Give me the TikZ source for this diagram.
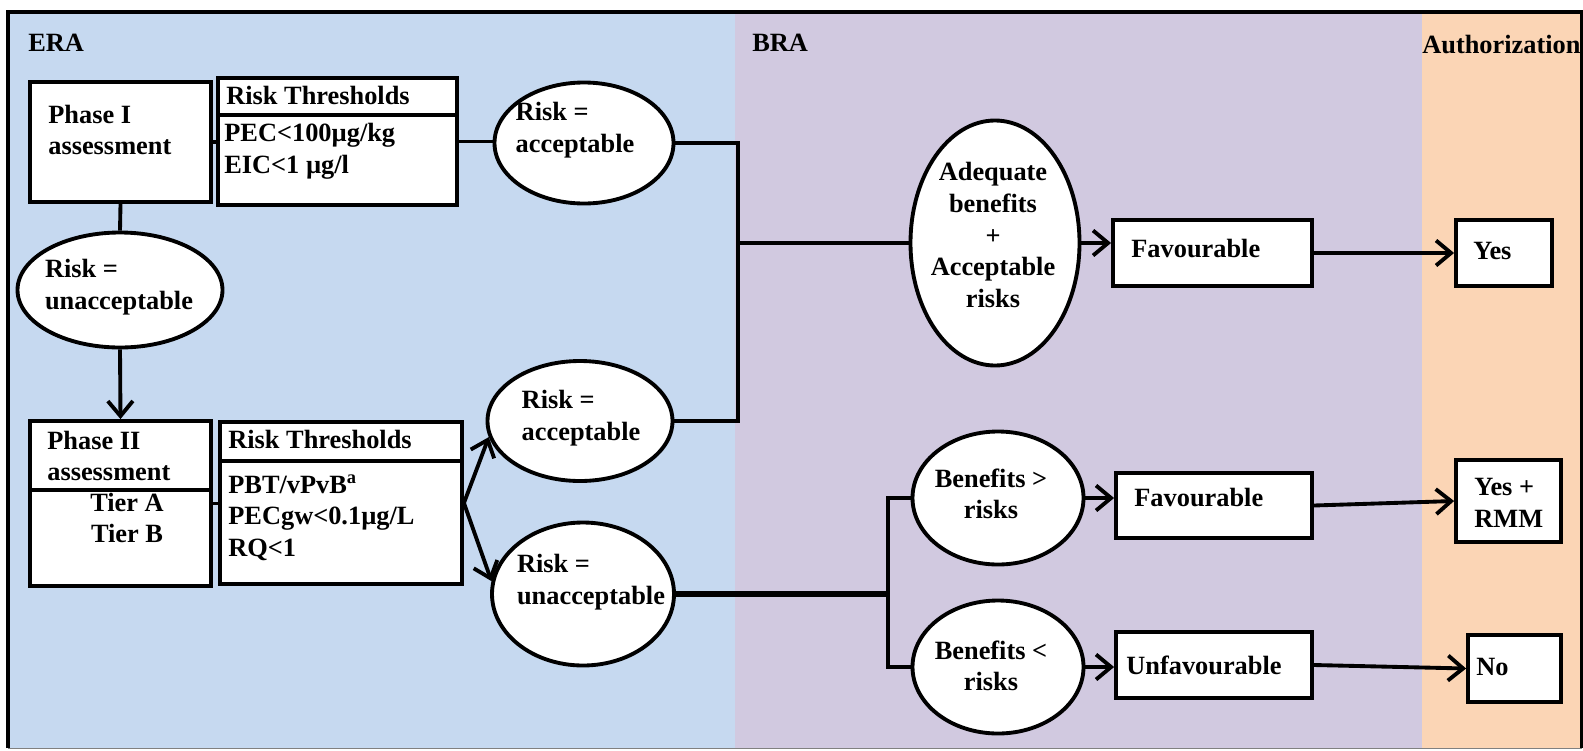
\documentclass[tikz,border=0pt]{standalone}
\usepackage{fontspec}
\setmainfont{Liberation Serif}
\usetikzlibrary{arrows.meta,shapes.geometric,fit}
\definecolor{eraBlue}{HTML}{C6D9F0}
\definecolor{braPurple}{HTML}{D1C9E0}
\definecolor{authOrange}{HTML}{FBD5B5}

\begin{document}
\begin{tikzpicture}[x=0.2mm, y=-0.2mm,
    every node/.style={font=\fontsize{15}{18}\selectfont\bfseries},
    box/.style={draw, fill=white, line width=2.2pt, inner sep=0pt},
    ell/.style={draw, ellipse, fill=white, line width=2.2pt, inner sep=0pt},
    txt/.style={inner sep=0pt},
    link/.style={line width=2.2pt},
    arr/.style={line width=2.2pt, -{Straight Barb[length=3mm,width=5mm]}}]
    \useasboundingbox (0,0) rectangle (1583,750);
    \fill[eraBlue] (8,12) rectangle (735,748);
    \fill[braPurple] (735,12) rectangle (1422,748);
    \fill[authOrange] (1422,12) rectangle (1583,748);
    \draw[gray, thin] (8,748) -- (1582,748);
    \draw[link] (8,748) -- (8,12) -- (1582,12) -- (1582,748);
    \node[txt, anchor=base west] (era) at (28,51) {ERA};
    \node[txt, anchor=base west] (bra) at (752,51) {BRA};
    \node[txt, anchor=base west] (auth) at (1422,53) {Authorization};

    \node[box, fit={(30,82) (211,202)}] (ph1) {};
    \node[box, fit={(218,78) (457,205)}] (th1) {};
    \draw[link] (218,115) -- (457,115);
    \node[box, fit={(30,421) (211,586)}] (ph2) {};
    \draw[link] (30,490) -- (211,490);
    \node[box, fit={(220,422) (462,584)}] (th2) {};
    \draw[link] (220,461) -- (462,461);
    \node[box, fit={(1113,220) (1312,286)}] (fav1) {};
    \node[box, fit={(1456,220) (1552,286)}] (yes) {};
    \node[box, fit={(1116,473) (1312,538)}] (fav2) {};
    \node[box, fit={(1456,460) (1561,542)}] (yrmm) {};
    \node[box, fit={(1116,632) (1312,698)}] (unf) {};
    \node[box, fit={(1468,635) (1561,702)}] (no) {};

    \node[ell, minimum width=35.8mm, minimum height=24.2mm] (rA1) at (584,143) {};
    \node[ell, minimum width=41mm, minimum height=23mm] (rU1) at (120,290) {};
    \node[ell, minimum width=37mm, minimum height=24mm] (rA2) at (580,421) {};
    \node[ell, minimum width=36.4mm, minimum height=28.6mm] (rU2) at (583,594) {};
    \node[ell, minimum width=33.8mm, minimum height=49mm] (adq) at (995,243) {};
    \node[ell, minimum width=34.2mm, minimum height=26.6mm] (bg) at (998,498) {};
    \node[ell, minimum width=34.2mm, minimum height=26.6mm] (bl) at (998,667) {};

    \node[txt, anchor=west, align=left] (ph1t) at (48,130) {Phase I\\assessment};
    \node[txt, anchor=base west] (th1h) at (226,104) {Risk Thresholds};
    \node[txt, anchor=west, align=left] (th1b) at (224,151) {PEC<100µg/kg\\EIC<1 µg/l};
    \node[txt, anchor=west, align=left] (ph2t) at (47,456) {Phase II\\assessment};
    \node[txt, align=center] (tiers) at (127,518) {Tier A\\Tier B};
    \node[txt, anchor=west] (th2h) at (228,439) {Risk Thresholds};
    \node[txt, anchor=west, align=left] (th2b) at (228,518) {PBT/vPvB\textsuperscript{a}\\PECgw<0.1µg/L\\RQ<1};
    \node[txt, align=left] (rA1t) at (575,130) {Risk =\\acceptable};
    \node[txt, align=left] (rU1t) at (119,287) {Risk =\\unacceptable};
    \node[txt, align=left] (rA2t) at (581,418) {Risk =\\acceptable};
    \node[txt, align=left] (rU2t) at (591,582) {Risk =\\unacceptable};
    \node[txt, align=center] (adqt) at (993,235) {Adequate\\benefits\\+\\Acceptable\\risks};
    \node[txt, align=center] (bgt) at (991,494) {Benefits >\\risks};
    \node[txt, align=center] (blt) at (991,666) {Benefits <\\risks};
    \node[txt, anchor=west] (fav1t) at (1131,249) {Favourable};
    \node[txt, anchor=west] (yest) at (1473,251) {Yes};
    \node[txt, anchor=west] (fav2t) at (1134,498) {Favourable};
    \node[txt, anchor=west, align=left] (yrmmt) at (1474,503) {Yes +\\RMM};
    \node[txt, anchor=west] (unft) at (1126,665) {Unfavourable};
    \node[txt, anchor=west] (not) at (1476,667) {No};

    \coordinate (jA) at (738,243);
    \coordinate (jB) at (888,594);
    \draw[link] (ph1.east) -- (ph1.east -| th1.west);
    \draw[link] (th1.east) -- (th1.east -| rA1.west);
    \draw[link] (ph1.south) -- (rU1.north);
    \draw[arr] (rU1.south) -- (ph2.north);
    \draw[link] (ph2.east) -- (ph2.east -| th2.west);
    \draw[arr] (th2.east) -- (rA2.190);
    \draw[arr] (th2.east) -- (rU2.172);
    \draw[link] (rA1.east) -| (jA) |- (rA2.east);
    \draw[link] (jA) -- (adq.west);
    \draw[line width=3.6pt] (rU2.east) -- (jB);
    \draw[link] (jB) |- (bg.west);
    \draw[link] (jB) |- (bl.west);
    \draw[arr] (adq.east) -- (adq.east -| fav1.west);
    \draw[arr] (fav1.east) -- (yes.west);
    \draw[arr] (bg.east) -- (bg.east -| fav2.west);
    \draw[arr] (fav2.east) -- (yrmm.west);
    \draw[arr] (bl.east) -- (bl.east -| unf.west);
    \draw[arr] (unf.east) -- (no.west);
\end{tikzpicture}
\end{document}
